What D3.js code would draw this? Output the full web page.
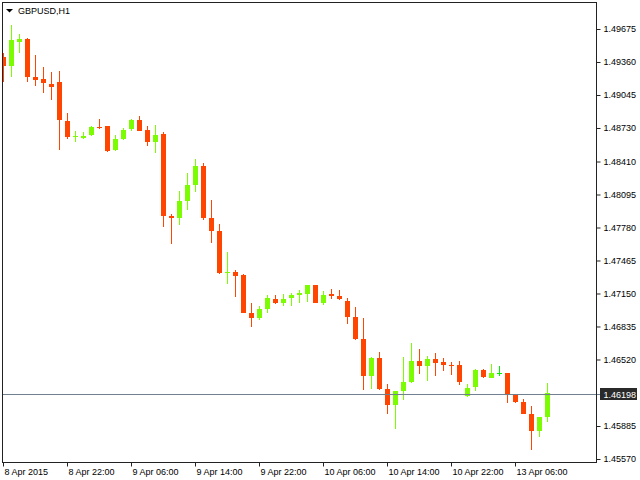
<!DOCTYPE html>
<html>
<head>
<meta charset="utf-8">
<script src="https://cdn.jsdelivr.net/npm/d3@7"></script>
<style>
  html, body { margin: 0; padding: 0; background: #fff; }
  svg { display: block; }
  text { font-family: "Liberation Sans", Arial, sans-serif; }
</style>
</head>
<body>
<svg id="chart" width="640" height="480"></svg>
<script>
// ---- data (GBPUSD, H1) ----
const symbol = "GBPUSD,H1";
const open = [1.49411,1.49318,1.49554,1.49582,1.49220,1.49201,1.49153,1.49172,1.48800,1.48647,
  1.48637,1.48659,1.48742,1.48745,1.48516,1.48628,1.48717,1.48809,1.48714,1.48592,
  1.48676,1.47893,1.47867,1.48029,1.48182,1.48370,1.47874,1.47750,1.47351,1.47358,
  1.47329,1.46967,1.46912,1.46998,1.47100,1.47055,1.47103,1.47132,1.47141,1.47234,
  1.47055,1.47141,1.47129,1.47081,1.46929,1.46718,1.46359,1.46537,1.46241,1.46082,
  1.46215,1.46301,1.46508,1.46454,1.46528,1.46499,1.46470,1.46470,1.46168,1.46254,
  1.46423,1.46340,1.46394,1.46394,1.46184,1.46117,1.46003,1.45834,1.45967];
const high = [1.49446,1.49709,1.49630,1.49592,1.49430,1.49315,1.49267,1.49277,1.48876,1.48704,
  1.48695,1.48752,1.48819,1.48749,1.48666,1.48733,1.48819,1.48847,1.48752,1.48761,
  1.48695,1.47912,1.48131,1.48303,1.48437,1.48399,1.48045,1.47816,1.47549,1.47377,
  1.47339,1.47062,1.47034,1.47139,1.47139,1.47148,1.47151,1.47186,1.47234,1.47234,
  1.47177,1.47196,1.47186,1.47110,1.47024,1.46919,1.46547,1.46594,1.46289,1.46222,
  1.46547,1.46680,1.46623,1.46556,1.46585,1.46537,1.46499,1.46508,1.46289,1.46432,
  1.46432,1.46480,1.46461,1.46394,1.46193,1.46146,1.46072,1.45974,1.46298];
const low = [1.49167,1.49213,1.49442,1.49165,1.49127,1.49060,1.48993,1.48516,1.48621,1.48592,
  1.48628,1.48654,1.48717,1.48497,1.48507,1.48612,1.48697,1.48697,1.48554,1.48487,
  1.47781,1.47619,1.47800,1.47943,1.48115,1.47848,1.47628,1.47332,1.47237,1.47113,
  1.46960,1.46826,1.46893,1.46960,1.47046,1.47027,1.47027,1.47055,1.47065,1.47055,
  1.47036,1.47094,1.47084,1.46855,1.46702,1.46225,1.46234,1.46225,1.45996,1.45853,
  1.46129,1.46292,1.46378,1.46311,1.46359,1.46406,1.46368,1.46273,1.46158,1.46215,
  1.46340,1.46340,1.46359,1.46101,1.46101,1.45996,1.45652,1.45776,1.45919];
const close = [1.49318,1.49573,1.49582,1.49213,1.49191,1.49156,1.49124,1.48802,1.48640,1.48656,
  1.48656,1.48742,1.48726,1.48513,1.48628,1.48714,1.48809,1.48704,1.48592,1.48666,
  1.47886,1.47867,1.48036,1.48189,1.48370,1.47867,1.47743,1.47342,1.47358,1.47313,
  1.46960,1.46912,1.47005,1.47110,1.47055,1.47100,1.47139,1.47151,1.47234,1.47055,
  1.47139,1.47122,1.47094,1.46922,1.46712,1.46359,1.46537,1.46234,1.46082,1.46222,
  1.46308,1.46508,1.46454,1.46528,1.46483,1.46464,1.46464,1.46301,1.46251,1.46423,
  1.46349,1.46394,1.46394,1.46177,1.46110,1.45996,1.45834,1.45974,1.46198];
const xTickIndex = [0, 8, 16, 24, 32, 40, 48, 56, 64];
const xTickLabels = ["8 Apr 2015","8 Apr 22:00","9 Apr 06:00","9 Apr 14:00","9 Apr 22:00",
  "10 Apr 06:00","10 Apr 14:00","10 Apr 22:00","13 Apr 06:00"];
const yTickLabels = ["1.49675","1.49360","1.49045","1.48730","1.48410","1.48095","1.47780",
  "1.47465","1.47150","1.46835","1.46520","1.45885","1.45570"];
const lastPrice = 1.46198;

// ---- layout ----
const L = 2.5, T = 2.5, R = 596.5, B = 462.5;
const svg = d3.select("#chart");
const n = open.length;
const bars = d3.range(n).map(i => ({i, o: open[i], h: high[i], l: low[i], c: close[i]}));

const x = d3.scaleLinear().domain([0, n - 1]).range([3.5, 3.5 + 8 * (n - 1)]);
const y = d3.scaleLinear().domain([1.45570, 1.49675]).range([459, 29]);

const UP = "#7CFC00", DOWN = "#FF4500", DOJI = "#00EE00";
const col = d => d.c > d.o ? UP : (d.c < d.o ? DOWN : DOJI);

svg.append("defs").append("clipPath").attr("id", "plot")
  .append("rect").attr("x", 3).attr("y", 3).attr("width", R - 3.5).attr("height", B - 3.5);

const g = svg.append("g").attr("clip-path", "url(#plot)");

// wicks
g.selectAll("rect.wick").data(bars).enter().append("rect")
  .attr("class", "wick")
  .attr("x", d => x(d.i) - 0.5)
  .attr("width", 1)
  .attr("y", d => Math.round(y(d.h)))
  .attr("height", d => Math.max(1, Math.round(y(d.l)) - Math.round(y(d.h))))
  .attr("fill", col);

// bodies
g.selectAll("rect.body").data(bars).enter().append("rect")
  .attr("class", "body")
  .attr("x", d => x(d.i) - 2.5)
  .attr("width", 5)
  .attr("y", d => Math.round(y(Math.max(d.o, d.c))))
  .attr("height", d => Math.max(1, Math.round(y(Math.min(d.o, d.c))) - Math.round(y(Math.max(d.o, d.c)))))
  .attr("fill", col);

// current price line
const py = Math.ceil(y(lastPrice)) + 0.5;
svg.append("line").attr("x1", 3).attr("x2", 601).attr("y1", py).attr("y2", py)
  .attr("stroke", "#708090").attr("stroke-width", 1);

// frame
svg.append("rect").attr("x", L).attr("y", T).attr("width", R - L).attr("height", B - T)
  .attr("fill", "none").attr("stroke", "#222").attr("stroke-width", 1);

// y axis (right)
const yAxis = d3.axisRight(y)
  .tickValues(yTickLabels.map(Number))
  .tickFormat((d, i) => yTickLabels[i])
  .tickSize(4).tickPadding(3);
const ya = svg.append("g").attr("transform", `translate(${R},0)`).call(yAxis);
ya.select(".domain").remove();
ya.selectAll("line").attr("stroke", "#222");
ya.selectAll("text").attr("font-size", 9).attr("fill", "#000")
  .attr("font-family", "'Liberation Sans', Arial, sans-serif");

// x axis (bottom)
const xAxis = d3.axisBottom(x)
  .tickValues(xTickIndex)
  .tickFormat((d, i) => xTickLabels[i])
  .tickSize(4).tickPadding(2).offset(0);
const xa = svg.append("g").attr("transform", `translate(0,${B})`).call(xAxis);
xa.select(".domain").remove();
xa.selectAll("line").attr("stroke", "#222");
xa.selectAll("text").attr("font-size", 9).attr("fill", "#000")
  .attr("text-anchor", "start").attr("dx", 1)
  .attr("font-family", "'Liberation Sans', Arial, sans-serif");

// price label
svg.append("rect").attr("x", 600).attr("y", py - 6.5).attr("width", 37).attr("height", 12)
  .attr("fill", "#2a2a2a");
svg.append("text").attr("x", 603.5).attr("y", py + 3.2).attr("font-size", 9)
  .attr("fill", "#fff").text(d3.format(".5f")(lastPrice));

// title
svg.append("path").attr("d", "M6,9 L13,9 L9.5,12.5 Z").attr("fill", "#000");
svg.append("text").attr("x", 18).attr("y", 14).attr("font-size", 9).attr("fill", "#000")
  .text(symbol);
</script>
</body>
</html>
